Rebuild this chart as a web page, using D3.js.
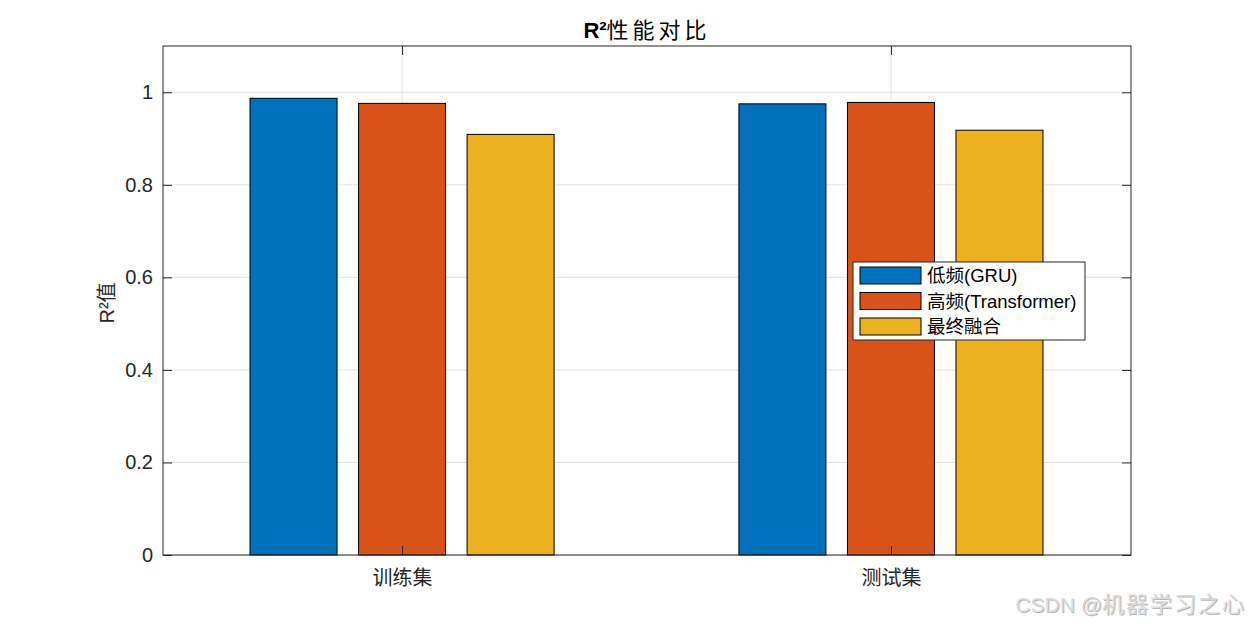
<!DOCTYPE html>
<html>
<head>
<meta charset="utf-8">
<script src="https://cdn.jsdelivr.net/npm/d3@7"></script>
<style>
  body { margin: 0; background: #fff; }
  text { font-family: "Liberation Sans", Arial, "Noto Sans CJK SC", sans-serif; }
</style>
</head>
<body>
<div id="chart"></div>
<script>
const groups = ["训练集", "测试集"];
const seriesNames = ["低频(GRU)", "高频(Transformer)", "最终融合"];
const seriesColors = ["#0072BD", "#D95319", "#EDB120"];
const lowValues = [0.987, 0.975];
const highValues = [0.976, 0.978];
const fusedValues = [0.909, 0.918];
const yTicks = [0, 0.2, 0.4, 0.6, 0.8, 1];

const W = 1250, H = 625;
const margin = { top: 46, right: 119, bottom: 70, left: 163 };
const width = W - margin.left - margin.right;
const height = H - margin.top - margin.bottom;

const svg = d3.select("#chart")
    .append("svg")
    .attr("width", W)
    .attr("height", H);

const g = svg.append("g")
    .attr("transform", `translate(${margin.left},${margin.top})`);

// groups sit at 1 and 2
const x = d3.scaleLinear().domain([0.511, 2.491]).range([0, width]);
const y = d3.scaleLinear().domain([0, 1.1]).range([height, 0]);

const series = [lowValues, highValues, fusedValues];
const offset = 0.222;  // spacing between bars in a group
const barW = 0.178;

// grid
g.selectAll(".ygrid")
    .data(yTicks)
    .enter().append("line")
    .attr("x1", 0).attr("x2", width)
    .attr("y1", d => y(d)).attr("y2", d => y(d))
    .style("stroke", "#e3e3e3").style("stroke-width", 1);

g.selectAll(".xgrid")
    .data(groups)
    .enter().append("line")
    .attr("x1", (d, i) => x(i + 1)).attr("x2", (d, i) => x(i + 1))
    .attr("y1", 0).attr("y2", height)
    .style("stroke", "#e3e3e3").style("stroke-width", 1);

// bars
series.forEach((vals, s) => {
    g.selectAll(null)
        .data(vals)
        .enter().append("rect")
        .attr("x", (d, i) => x(i + 1 + (s - 1) * offset - barW / 2))
        .attr("y", d => y(d))
        .attr("width", x(barW) - x(0))
        .attr("height", d => y(0) - y(d))
        .style("fill", seriesColors[s])
        .style("stroke", "#000")
        .style("stroke-width", 1);
});

// axes (ticks pointing inward, box on)
const axisColor = "#262626";
const yAxisL = d3.axisLeft(y).tickValues(yTicks).tickSize(-9).tickPadding(10)
    .tickFormat(d => d === 0 || d === 1 ? d3.format("d")(d) : d3.format(".1f")(d));
const yAxisR = d3.axisRight(y).tickValues(yTicks).tickSize(-9).tickFormat("");
const xAxisB = d3.axisBottom(x).tickValues([1, 2]).tickSize(-9).tickPadding(16)
    .tickFormat(d => groups[d - 1]);
const xAxisT = d3.axisTop(x).tickValues([1, 2]).tickSize(-9).tickFormat("");

function styleAxis(sel) {
    sel.select(".domain").style("stroke", axisColor).style("stroke-width", 1);
    sel.selectAll(".tick line").style("stroke", axisColor);
    sel.selectAll(".tick text").style("fill", axisColor).style("font-size", "20px");
}

g.append("g").call(yAxisL).call(styleAxis);
g.append("g").attr("transform", `translate(${width},0)`).call(yAxisR).call(styleAxis);
g.append("g").attr("transform", `translate(0,${height})`).call(xAxisB).call(styleAxis);
g.append("g").call(xAxisT).call(styleAxis);
g.selectAll(".domain").attr("d", null);
g.append("rect")
    .attr("width", width).attr("height", height)
    .style("fill", "none").style("stroke", axisColor).style("stroke-width", 1);

// y label
g.append("text")
    .attr("transform", `translate(${-49},${257}) rotate(-90)`)
    .attr("text-anchor", "middle")
    .style("font-size", "20px")
    .style("fill", axisColor)
    .text("R²值");

// title
const title = svg.append("text")
    .attr("x", margin.left + width / 2)
    .attr("y", 38)
    .attr("text-anchor", "middle")
    .style("font-size", "22px")
    .style("fill", "#000");
title.append("tspan").style("font-weight", "bold").text("R²");
title.append("tspan").style("letter-spacing", "4px").text("性能对比");

// legend
const lg = svg.append("g").attr("transform", "translate(853,262)");
lg.append("rect")
    .attr("width", 232).attr("height", 78)
    .style("fill", "#fff").style("stroke", axisColor).style("stroke-width", 1);
seriesNames.forEach((name, i) => {
    lg.append("rect")
        .attr("x", 7).attr("y", 5 + i * 25.5)
        .attr("width", 61).attr("height", 17)
        .style("fill", seriesColors[i]).style("stroke", "#000");
    lg.append("text")
        .attr("x", 74).attr("y", 20 + i * 25.5)
        .style("font-size", "18.5px")
        .style("fill", "#000")
        .text(name);
});

// watermark (light text with a soft darker shadow)
[["#b8b8b8", 1], ["#dcdcdc", 0]].forEach(([col, dd]) => {
    const wm = svg.append("text")
        .attr("x", 1244 + dd).attr("y", 612 + dd)
        .attr("text-anchor", "end")
        .style("fill", col);
    wm.append("tspan").style("font-size", "21px").text("CSDN @");
    wm.append("tspan").style("font-size", "22px").style("letter-spacing", "2px").text("机器学习之");
    wm.append("tspan").style("font-size", "22px").text("心");
});
</script>
</body>
</html>
